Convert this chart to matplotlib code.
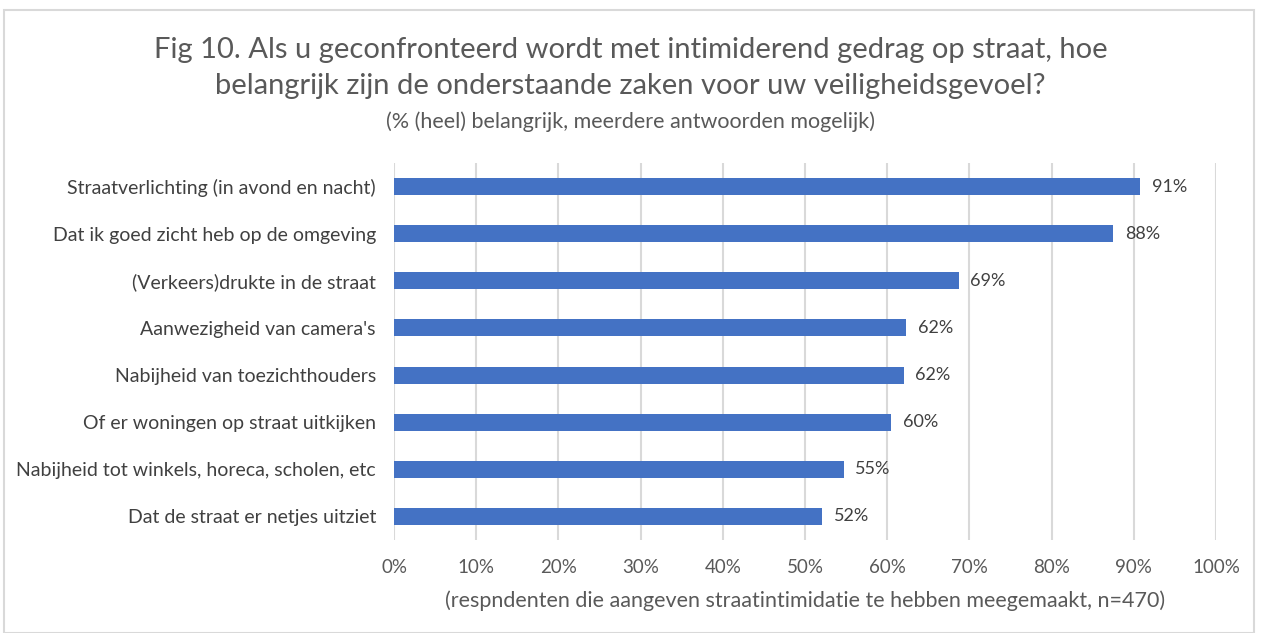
import matplotlib.pyplot as plt
from matplotlib.patches import Rectangle

plt.rcParams['font.family'] = ['Lato', 'DejaVu Sans']

# data (top to bottom as in the chart)
labels = ['Straatverlichting (in avond en nacht)',
          'Dat ik goed zicht heb op de omgeving',
          '(Verkeers)drukte in de straat',
          "Aanwezigheid van camera's",
          'Nabijheid van toezichthouders',
          'Of er woningen op straat uitkijken',
          'Nabijheid tot winkels, horeca, scholen, etc',
          'Dat de straat er netjes uitziet']
values = [90.8, 87.5, 68.7, 62.3, 62.0, 60.5, 54.7, 52.1]
value_labels = ['91%', '88%', '69%', '62%', '62%', '60%', '55%', '52%']
ticks = [0, 10, 20, 30, 40, 50, 60, 70, 80, 90, 100]

bar_color = '#4472C4'
title_color = '#595959'
text_color = '#404040'

fig = plt.figure(figsize=(12.61, 6.33), dpi=100)
ax = fig.add_axes([394 / 1261, 1 - 540 / 633, (1216 - 394) / 1261, (540 - 163) / 633])

y = list(range(len(labels)))[::-1]
ax.barh(y, values, height=0.36, color=bar_color, zorder=3)
for yi, v, t in zip(y, values, value_labels):
    ax.text(v + 1.4, yi, t, va='center', ha='left', fontsize=13, color=text_color)

ax.set_xlim(0, 100)
ax.set_ylim(-0.5, len(labels) - 0.5)
ax.set_yticks(y)
ax.set_yticklabels(labels, fontsize=14, color=text_color)
ax.set_xticks(ticks)
ax.set_xticklabels([f'{t}%' for t in ticks], fontsize=13.5, color=title_color)
ax.tick_params(length=0, pad=13, axis='y')
ax.tick_params(length=0, pad=14, axis='x')
ax.grid(axis='x', color='#D9D9D9', linewidth=1.5, zorder=0)
for s in ax.spines.values():
    s.set_visible(False)

ax.set_xlabel('(respndenten die aangeven straatintimidatie te hebben meegemaakt, n=470)',
              fontsize=15.5, color=title_color, labelpad=10)

fig.text(0.5, 1 - 68 / 633, 'Fig 10. Als u geconfronteerd wordt met intimiderend gedrag op straat, hoe\n'
         'belangrijk zijn de onderstaande zaken voor uw veiligheidsgevoel?',
         ha='center', va='center', fontsize=21, color=title_color, linespacing=1.5)
fig.text(0.5, 1 - 122 / 633, '(% (heel) belangrijk, meerdere antwoorden mogelijk)',
         ha='center', va='center', fontsize=15.5, color=title_color)

# light border around the chart area
fig.patches.append(Rectangle((4 / 1261, 0), 1250 / 1261, 1 - 10 / 633,
                             transform=fig.transFigure, fill=False,
                             edgecolor='#D9D9D9', linewidth=1.5))

fig.savefig('out.png', dpi=100)
